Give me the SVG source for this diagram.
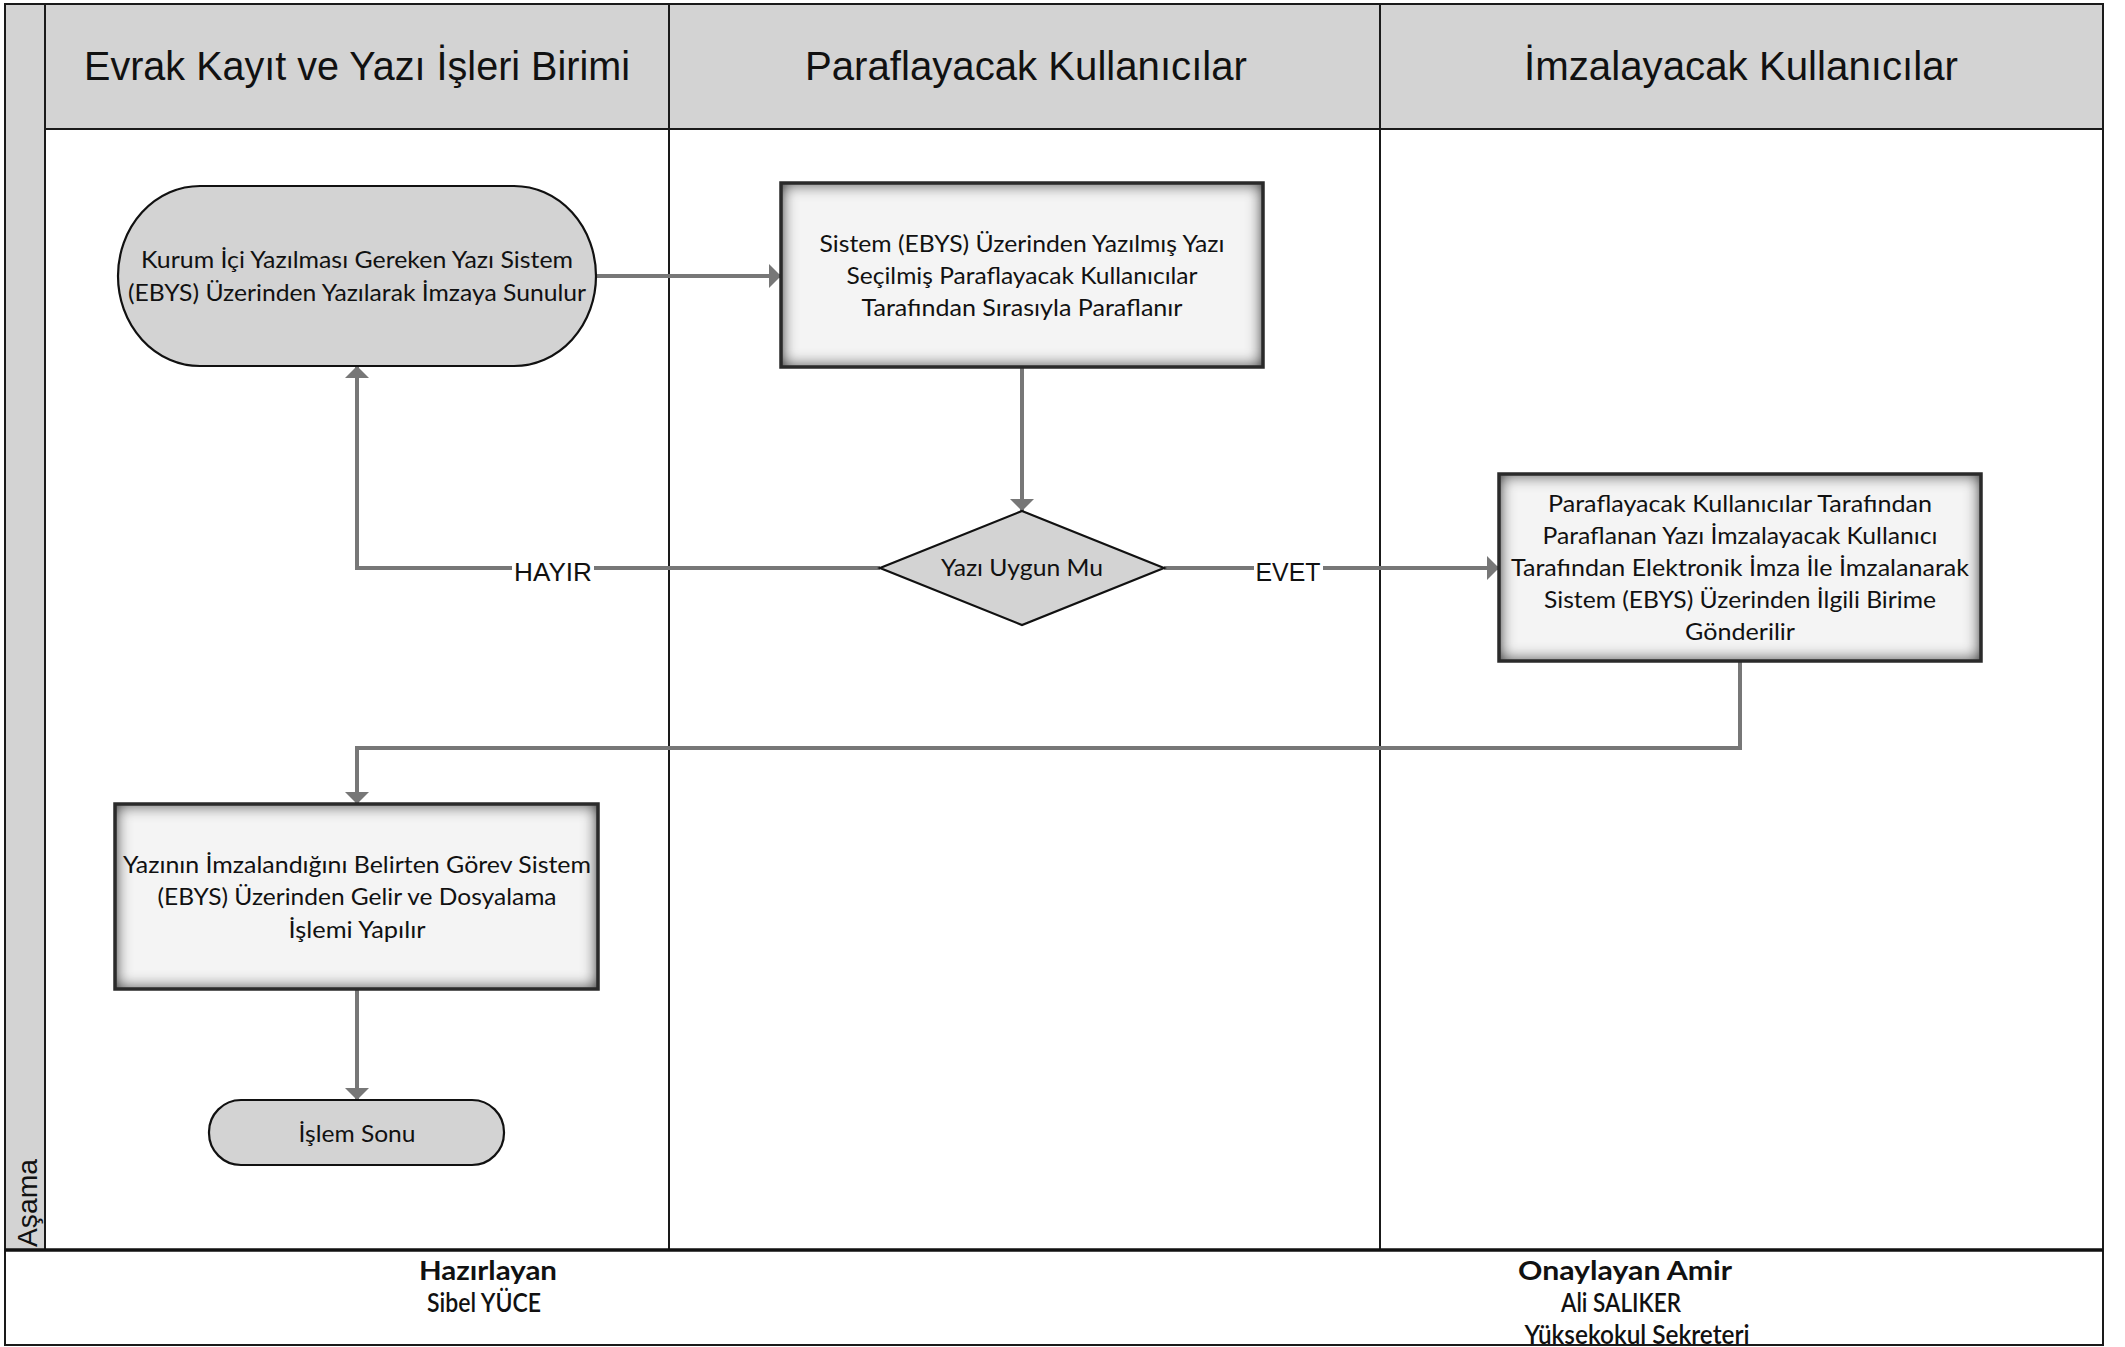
<svg xmlns="http://www.w3.org/2000/svg" width="2125" height="1347" viewBox="0 0 2125 1347">
<style>
.lane{fill:none;stroke:#1a1a1a;stroke-width:2}
.hdr{font-family:"Liberation Sans Narrow","Liberation Sans",sans-serif;font-size:41px;fill:#111;text-anchor:middle}
.nt{font-family:Lato,"Noto Sans",sans-serif;font-size:23px;fill:#111;text-anchor:middle}
.term{fill:#d3d3d3;stroke:#111;stroke-width:2.2}
.proc{fill:#f4f4f4}
.procb{fill:none;stroke:#2a2a2a;stroke-width:3.5}
.conn{fill:none;stroke:#777;stroke-width:4}
.lbl{font-family:"Liberation Sans",Arial,sans-serif;font-size:26px;fill:#111;text-anchor:middle}
.ft{font-family:Lato,"Liberation Sans",sans-serif;font-size:27px;fill:#111;text-anchor:middle}
</style>
<defs>
<marker id="arr" viewBox="0 0 12 24" refX="12" refY="12" markerWidth="12" markerHeight="24" markerUnits="userSpaceOnUse" orient="auto">
<path d="M0,0 L12,12 L0,24 z" fill="#777"/>
</marker>
<filter id="inset" x="-5%" y="-5%" width="110%" height="110%">
<feFlood flood-color="#000" result="f"/>
<feComposite in="f" in2="SourceAlpha" operator="out" result="inv"/>
<feGaussianBlur in="inv" stdDeviation="8" result="blur"/>
<feComposite in="blur" in2="SourceAlpha" operator="in" result="shadow"/>
<feMerge><feMergeNode in="SourceGraphic"/><feMergeNode in="shadow"/><feMergeNode in="shadow"/></feMerge>
</filter>
</defs>
<rect width="2125" height="1347" fill="#fff"/>
<g id="lanes">
<rect x="5" y="5" width="40" height="1245" fill="#d3d3d3"/>
<rect x="45" y="5" width="2058" height="124" fill="#d3d3d3"/>
<rect x="5" y="4" width="2098" height="1246" class="lane"/>
<line x1="45" y1="5" x2="45" y2="1250" class="lane"/>
<line x1="45" y1="129" x2="2103" y2="129" class="lane"/>
<line x1="669" y1="5" x2="669" y2="1250" class="lane"/>
<line x1="1380" y1="5" x2="1380" y2="1250" class="lane"/>
<text class="hdr" x="357" y="80" textLength="546" lengthAdjust="spacingAndGlyphs">Evrak Kayıt ve Yazı İşleri Birimi</text>
<text class="hdr" x="1026" y="80" textLength="442" lengthAdjust="spacingAndGlyphs">Paraflayacak Kullanıcılar</text>
<text class="hdr" x="1741" y="80" textLength="434" lengthAdjust="spacingAndGlyphs">İmzalayacak Kullanıcılar</text>
<text transform="translate(37,1247) rotate(-90)" font-family="Liberation Sans, Arial, sans-serif" font-size="28" fill="#111" textLength="88" lengthAdjust="spacingAndGlyphs">Aşama</text>
</g>
<g id="connectors">
<path class="conn" d="M596 276 H781" marker-end="url(#arr)"/>
<path class="conn" d="M1022 367 V511" marker-end="url(#arr)"/>
<path class="conn" d="M880 568 H357 V366" marker-end="url(#arr)"/>
<path class="conn" d="M1164 568 H1499" marker-end="url(#arr)"/>
<path class="conn" d="M1740 661 V748 H357 V804" marker-end="url(#arr)"/>
<path class="conn" d="M357 989 V1100" marker-end="url(#arr)"/>
<rect x="512" y="556" width="82" height="30" fill="#fff"/>
<text class="lbl" x="553" y="581" textLength="78" lengthAdjust="spacingAndGlyphs">HAYIR</text>
<rect x="1254" y="556" width="69" height="30" fill="#fff"/>
<text class="lbl" x="1288" y="581" textLength="65" lengthAdjust="spacingAndGlyphs">EVET</text>
</g>
<g id="n1">
<rect class="term" x="118" y="186" width="478" height="180" rx="82" ry="90"/>
<text class="nt" x="357" y="268" textLength="432" lengthAdjust="spacingAndGlyphs">Kurum İçi Yazılması Gereken Yazı Sistem</text>
<text class="nt" x="357" y="301" textLength="458" lengthAdjust="spacingAndGlyphs">(EBYS) Üzerinden Yazılarak İmzaya Sunulur</text>
</g>
<g id="n2">
<rect class="proc" x="781" y="183" width="482" height="184" filter="url(#inset)"/>
<rect class="procb" x="781" y="183" width="482" height="184"/>
<text class="nt" x="1022" y="252" textLength="405" lengthAdjust="spacingAndGlyphs">Sistem (EBYS) Üzerinden Yazılmış Yazı</text>
<text class="nt" x="1022" y="284" textLength="351" lengthAdjust="spacingAndGlyphs">Seçilmiş Paraflayacak Kullanıcılar</text>
<text class="nt" x="1022" y="316" textLength="321" lengthAdjust="spacingAndGlyphs">Tarafından Sırasıyla Paraflanır</text>
</g>
<g id="n3">
<polygon class="term" points="1022,511 1164,568 1022,625 880,568"/>
<text class="nt" x="1022" y="576" textLength="162" lengthAdjust="spacingAndGlyphs">Yazı Uygun Mu</text>
</g>
<g id="n4">
<rect class="proc" x="1499" y="474" width="482" height="187" filter="url(#inset)"/>
<rect class="procb" x="1499" y="474" width="482" height="187"/>
<text class="nt" x="1740" y="512" textLength="384" lengthAdjust="spacingAndGlyphs">Paraflayacak Kullanıcılar Tarafından</text>
<text class="nt" x="1740" y="544" textLength="395" lengthAdjust="spacingAndGlyphs">Paraflanan Yazı İmzalayacak Kullanıcı</text>
<text class="nt" x="1740" y="576" textLength="458" lengthAdjust="spacingAndGlyphs">Tarafından Elektronik İmza İle İmzalanarak</text>
<text class="nt" x="1740" y="608" textLength="392" lengthAdjust="spacingAndGlyphs">Sistem (EBYS) Üzerinden İlgili Birime</text>
<text class="nt" x="1740" y="640" textLength="110" lengthAdjust="spacingAndGlyphs">Gönderilir</text>
</g>
<g id="n5">
<rect class="proc" x="115" y="804" width="483" height="185" filter="url(#inset)"/>
<rect class="procb" x="115" y="804" width="483" height="185"/>
<text class="nt" x="357" y="873" textLength="468" lengthAdjust="spacingAndGlyphs">Yazının İmzalandığını Belirten Görev Sistem</text>
<text class="nt" x="357" y="905" textLength="399" lengthAdjust="spacingAndGlyphs">(EBYS) Üzerinden Gelir ve Dosyalama</text>
<text class="nt" x="357" y="938" textLength="137" lengthAdjust="spacingAndGlyphs">İşlemi Yapılır</text>
</g>
<g id="n6">
<rect class="term" x="209" y="1100" width="295" height="65" rx="32" ry="32"/>
<text class="nt" x="357" y="1142" textLength="117" lengthAdjust="spacingAndGlyphs">İşlem Sonu</text>
</g>
<g id="footer">
<rect x="5" y="1250" width="2098" height="95" fill="#fff" stroke="#1a1a1a" stroke-width="2"/>
<line x1="5" y1="1250" x2="2103" y2="1250" stroke="#111" stroke-width="3.5"/>
<text class="ft" x="488" y="1280" font-weight="bold" textLength="138" lengthAdjust="spacingAndGlyphs">Hazırlayan</text>
<text class="ft" x="484" y="1312" font-size="24" font-weight="600" textLength="114" lengthAdjust="spacingAndGlyphs">Sibel YÜCE</text>
<text class="ft" x="1625" y="1280" font-weight="bold" textLength="214" lengthAdjust="spacingAndGlyphs">Onaylayan Amir</text>
<text class="ft" x="1621" y="1312" font-size="24" font-weight="600" textLength="120" lengthAdjust="spacingAndGlyphs">Ali SALIKER</text>
<text class="ft" x="1637" y="1344" font-size="24" font-weight="600" textLength="225" lengthAdjust="spacingAndGlyphs">Yüksekokul Sekreteri</text>
</g>
</svg>
